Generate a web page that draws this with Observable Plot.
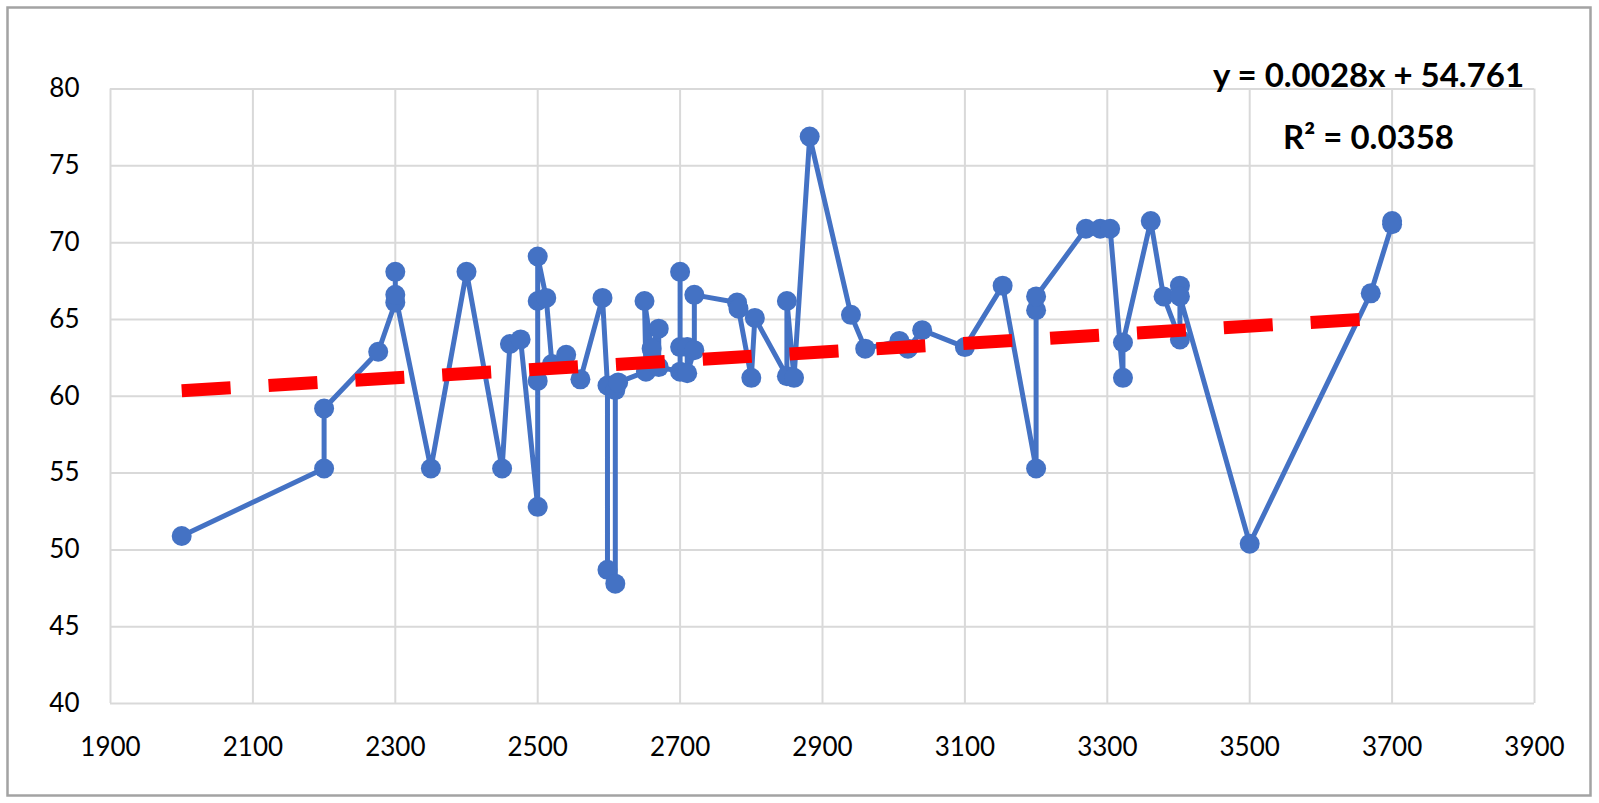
<!DOCTYPE html>
<html>
<head>
<meta charset="utf-8">
<script src="https://cdn.jsdelivr.net/npm/d3@7"></script>
<script src="https://cdn.jsdelivr.net/npm/@observablehq/plot@0.6"></script>
<style>
  html, body { margin: 0; padding: 0; background: #fff; }
  svg { display: block; }
</style>
</head>
<body>
<div id="chart"></div>
<script>
// Series values (in drawing order)
const xValues = [2000, 2200, 2200, 2276, 2300, 2300, 2300, 2350, 2400, 2450,
  2461, 2476, 2500, 2500, 2500, 2500, 2512, 2520, 2540, 2560,
  2591, 2598, 2598, 2609, 2609, 2613, 2652, 2650, 2660, 2670,
  2670, 2700, 2700, 2700, 2710, 2710, 2720, 2720, 2780, 2782,
  2800, 2805, 2850, 2850, 2860, 2882, 2940, 2960, 3008, 3020,
  3040, 3100, 3153, 3200, 3200, 3200, 3270, 3290, 3304, 3322,
  3322, 3361, 3379, 3402, 3402, 3402, 3500, 3670, 3700, 3700];
const yValues = [50.9, 55.3, 59.2, 62.9, 66.1, 68.1, 66.6, 55.3, 68.1, 55.3,
  63.4, 63.7, 52.8, 61.0, 66.2, 69.1, 66.4, 62.1, 62.7, 61.1,
  66.4, 60.7, 48.7, 47.8, 60.4, 60.9, 61.6, 66.2, 63.1, 64.4,
  61.9, 61.6, 68.1, 63.2, 63.2, 61.5, 63.0, 66.6, 66.1, 65.7,
  61.2, 65.1, 61.3, 66.2, 61.2, 76.9, 65.3, 63.1, 63.6, 63.1,
  64.3, 63.2, 67.2, 55.3, 65.6, 66.5, 70.9, 70.9, 70.9, 61.2,
  63.5, 71.4, 66.5, 63.7, 67.2, 66.5, 50.4, 66.7, 71.2, 71.4];

// Trendline (as given by the chart's equation)
const slope = 0.0028;
const intercept = 54.761;
const equationText = "y = 0.0028x + 54.761";
const r2Text = "R\u00B2 = 0.0358";

// Tick labels
const xTicks = [1900, 2100, 2300, 2500, 2700, 2900, 3100, 3300, 3500, 3700, 3900];
const yTicks = [40, 45, 50, 55, 60, 65, 70, 75, 80];

const data = xValues.map((x, i) => ({x, y: yValues[i]}));
const xExtent = d3.extent(xValues);
const trend = xExtent.map(x => ({x, y: slope * x + intercept}));

const grid = {stroke: "#d9d9d9", strokeOpacity: 1, strokeWidth: 2};

const chart = Plot.plot({
  width: 1599,
  height: 803,
  marginLeft: 110,
  marginRight: 65,
  marginTop: 88.5,
  marginBottom: 100,
  x: {domain: [1900, 3900]},
  y: {domain: [40, 80]},
  style: {fontFamily: "Lato, 'Open Sans', sans-serif", background: "white", color: "black"},
  marks: [
    Plot.frame({stroke: "#a3a3a3", strokeWidth: 2.5, insetLeft: -103, insetRight: -56, insetTop: -81.5, insetBottom: -92}),
    Plot.gridX(xTicks, grid),
    Plot.gridY(yTicks, grid),
    Plot.axisX(xTicks, {tickSize: 0, tickPadding: 34, fontSize: 26, label: null, tickFormat: d => String(d)}),
    Plot.axisY(yTicks, {tickSize: 0, tickPadding: 31, fontSize: 26, label: null}),
    Plot.line(data, {x: "x", y: "y", stroke: "#4472C4", strokeWidth: 5, strokeLinejoin: "round"}),
    Plot.dot(data, {x: "x", y: "y", r: 10, fill: "#4472C4", stroke: "none"}),
    Plot.line(trend, {x: "x", y: "y", stroke: "#FF0000", strokeWidth: 13, strokeDasharray: "49,38", strokeLinecap: "butt"}),
    Plot.text([equationText], {frameAnchor: "top-right", text: d => d, dx: -166, dy: -2, lineAnchor: "bottom", textAnchor: "middle", fontSize: 33, fontWeight: "bold", fill: "black"}),
    Plot.text([r2Text], {frameAnchor: "top-right", text: d => d, dx: -166, dy: 59.5, lineAnchor: "bottom", textAnchor: "middle", fontSize: 33, fontWeight: "bold", fill: "black"})
  ]
});
document.getElementById("chart").appendChild(chart);
</script>
</body>
</html>
